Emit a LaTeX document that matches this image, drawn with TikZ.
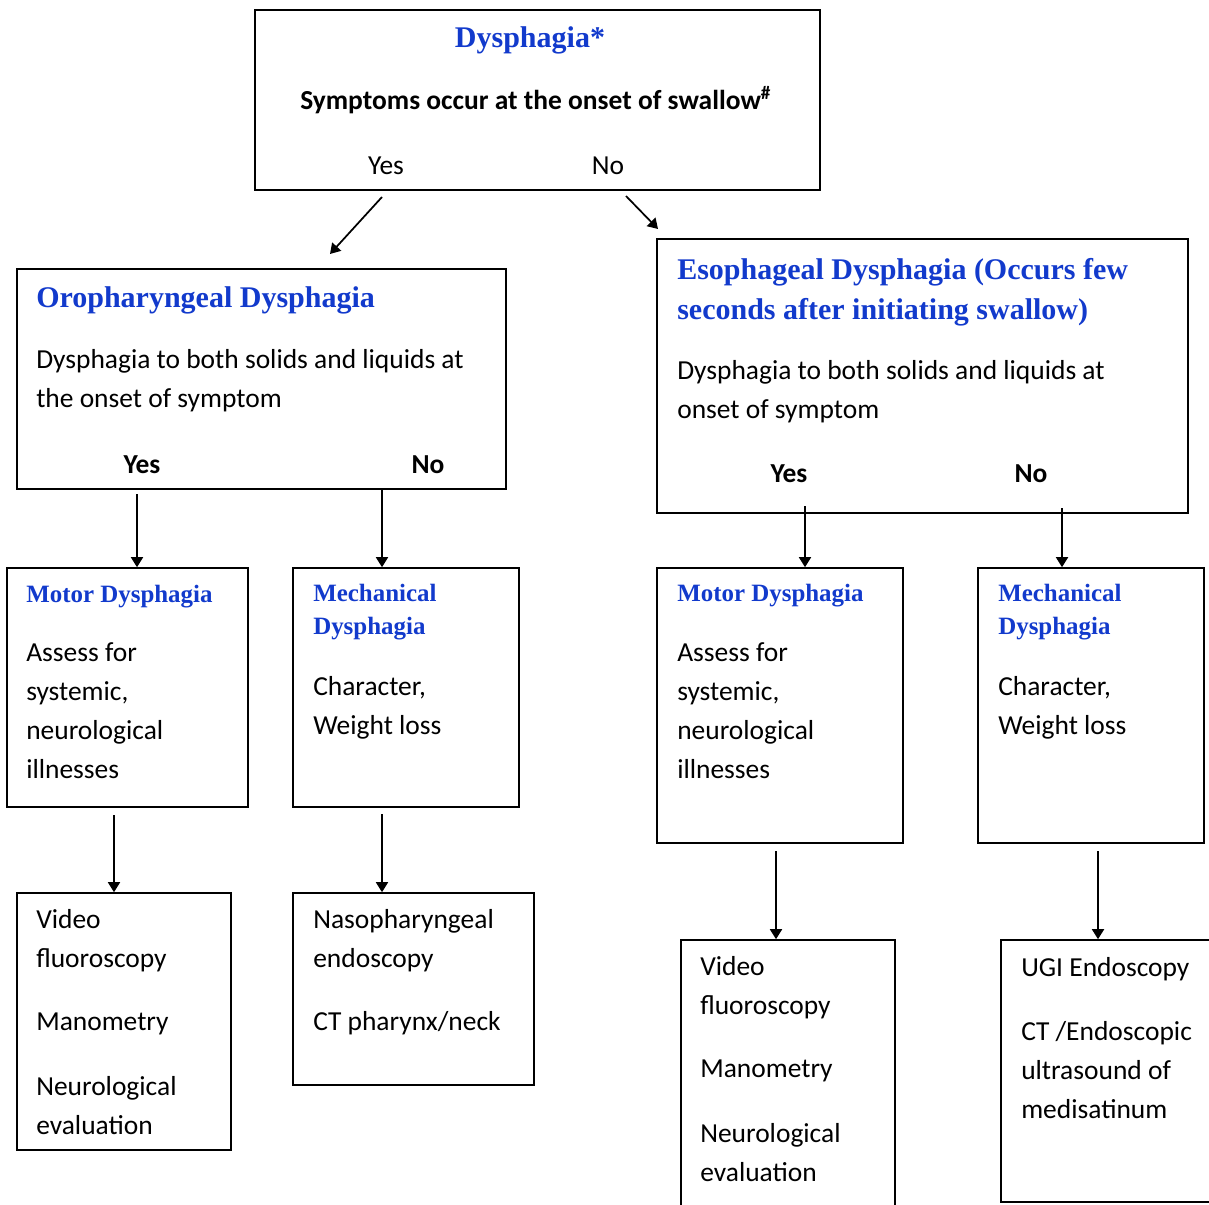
\documentclass[tikz,border=0pt]{standalone}
\usepackage{fontspec}
\setmainfont{Liberation Serif}
\newfontfamily\calibri{Carlito}
\usetikzlibrary{arrows.meta,fit}
\definecolor{titleblue}{RGB}{18,58,204}
\tikzset{
  box/.style={draw=black, line width=1.2pt, inner sep=0pt},
  % multi-line texts are anchored at the baseline of their last line
  body/.style={font=\calibri\fontsize{20.6}{29.25}\selectfont, align=left, inner sep=0pt, anchor=base west},
  answer/.style={font=\calibri\fontsize{20.6}{29.25}\selectfont, inner sep=0pt, anchor=base},
  answer-bold/.style={answer, font=\calibri\bfseries\fontsize{20.6}{29.25}\selectfont},
  title/.style={font=\bfseries\fontsize{22.5}{30}\selectfont, text=titleblue, align=left, inner sep=0pt, anchor=base west},
  subtitle/.style={font=\bfseries\fontsize{18.7}{24.75}\selectfont, text=titleblue, align=left, inner sep=0pt, anchor=base west},
  arr/.style={line width=1.3pt, -{Triangle[length=7.5pt,width=9pt]}}
}

\begin{document}
\begin{tikzpicture}[x=0.75pt, y=-0.75pt]
  \useasboundingbox (0,0) rectangle (1209,1205);
  % top question
  \node[box, fit={(255,10) (820,190)}] (start) {};
  \node[title, anchor=base] (startT) at (530,48) {Dysphagia*};
  \node[answer-bold, anchor=base west] (startQ) at (300,110) {Symptoms occur at the onset of swallow\textsuperscript{\#}};
  \node[answer] (startYes) at (386,175) {Yes};
  \node[answer] (startNo) at (608,175) {No};

  % second level
  \node[box, fit={(17,269) (506,489)}] (oro) {};
  \node[title] (oroT) at (36,308) {Oropharyngeal Dysphagia};
  \node[body] (oroB) at (36,407) {Dysphagia to both solids and liquids at\\the onset of symptom};
  \node[answer-bold] (oroYes) at (142,473) {Yes};
  \node[answer-bold] (oroNo) at (428,473) {No};

  \node[box, fit={(657,239) (1188,513)}] (eso) {};
  \node[title] (esoT) at (677,320) {Esophageal Dysphagia (Occurs few\\seconds after initiating swallow)};
  \node[body] (esoB) at (677,418) {Dysphagia to both solids and liquids at\\onset of symptom};
  \node[answer-bold] (esoYes) at (789,482) {Yes};
  \node[answer-bold] (esoNo) at (1031,482) {No};

  % third level
  \node[box, fit={(7,568) (248,807)}] (motorA) {};
  \node[subtitle] (motorAT) at (26,602) {Motor Dysphagia};
  \node[body] (motorAB) at (26,778) {Assess for\\systemic,\\neurological\\illnesses};

  \node[box, fit={(293,568) (519,807)}] (mechA) {};
  \node[subtitle] (mechAT) at (313,634) {Mechanical\\Dysphagia};
  \node[body] (mechAB) at (313,734) {Character,\\Weight loss};

  \node[box, fit={(657,568) (903,843)}] (motorB) {};
  \node[subtitle] (motorBT) at (677,601) {Motor Dysphagia};
  \node[body] (motorBB) at (677,778) {Assess for\\systemic,\\neurological\\illnesses};

  \node[box, fit={(978,568) (1204,843)}] (mechB) {};
  \node[subtitle] (mechBT) at (998,634) {Mechanical\\Dysphagia};
  \node[body] (mechBB) at (998,734) {Character,\\Weight loss};

  % investigations
  \node[box, fit={(17,893) (231,1150)}] (testA) {};
  \node[body] (testAB) at (36,1134) {Video\\fluoroscopy\\[18pt]Manometry\\[19.5pt]Neurological\\evaluation};

  \node[box, fit={(293,893) (534,1085)}] (testB) {};
  \node[body] (testBB) at (313,1030) {Nasopharyngeal\\endoscopy\\[18pt]CT pharynx/neck};

  \node[box, fit={(681,940) (895,1220)}] (testC) {};
  \node[body] (testCB) at (700,1181) {Video\\fluoroscopy\\[18pt]Manometry\\[19pt]Neurological\\evaluation};

  \node[box, fit={(1001,940) (1220,1202)}] (testD) {};
  \node[body] (testDB) at (1021,1118) {UGI Endoscopy\\[18.5pt]CT /Endoscopic\\ultrasound of\\medisatinum};

  % connectors
  \coordinate (yesFrom) at (382,197);
  \coordinate (yesTo) at (330,254);
  \coordinate (noFrom) at (626,196);
  \coordinate (noTo) at (658,229);
  \draw[arr] (yesFrom) -- (yesTo);
  \draw[arr] (noFrom) -- (noTo);
  \coordinate (oroYesFrom) at (137,494);
  \coordinate (oroNoFrom) at (382,489);
  \coordinate (esoYesFrom) at (805,506);
  \coordinate (esoNoFrom) at (1062,508);
  \draw[arr] (oroYesFrom) -- (oroYesFrom |- motorA.north);
  \draw[arr] (oroNoFrom) -- (oroNoFrom |- mechA.north);
  \draw[arr] (esoYesFrom) -- (esoYesFrom |- motorB.north);
  \draw[arr] (esoNoFrom) -- (esoNoFrom |- mechB.north);
  \coordinate (motorAFrom) at (114,815);
  \coordinate (mechAFrom) at (382,814);
  \coordinate (motorBFrom) at (776,851);
  \coordinate (mechBFrom) at (1098,851);
  \draw[arr] (motorAFrom) -- (motorAFrom |- testA.north);
  \draw[arr] (mechAFrom) -- (mechAFrom |- testB.north);
  \draw[arr] (motorBFrom) -- (motorBFrom |- testC.north);
  \draw[arr] (mechBFrom) -- (mechBFrom |- testD.north);
\end{tikzpicture}
\end{document}
